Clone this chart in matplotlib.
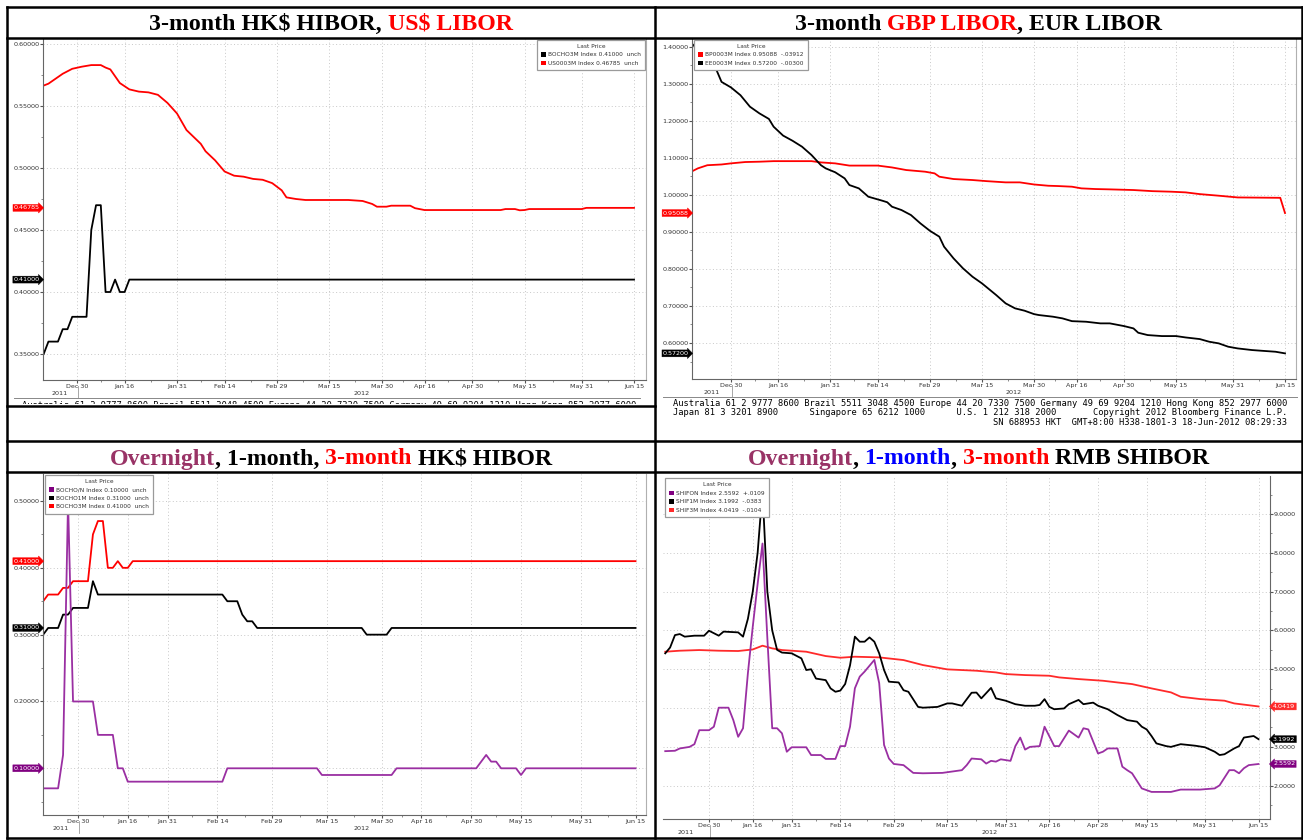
import numpy as np
import matplotlib
matplotlib.use("Agg")
import matplotlib.pyplot as plt
from matplotlib.lines import Line2D
from matplotlib.patches import Patch
from matplotlib.ticker import FixedLocator, MultipleLocator, FormatStrFormatter
from matplotlib.transforms import Bbox, TransformedBbox, blended_transform_factory

W, H = 1303, 840

# ---------------- data (date, value) ----------------
US0003M = [('2011-12-19', 0.5665), ('2011-12-20', 0.5680), ('2011-12-23', 0.5760), ('2011-12-29', 0.5800),
           ('2012-01-03', 0.5817), ('2012-01-05', 0.5830), ('2012-01-09', 0.5830), ('2012-01-10', 0.5810),
           ('2012-01-11', 0.5795), ('2012-01-13', 0.5685), ('2012-01-17', 0.5634), ('2012-01-19', 0.5616),
           ('2012-01-23', 0.5610), ('2012-01-25', 0.5590), ('2012-01-27', 0.5525), ('2012-01-31', 0.5440),
           ('2012-02-02', 0.5306), ('2012-02-07', 0.5195), ('2012-02-08', 0.5135), ('2012-02-10', 0.5062),
           ('2012-02-14', 0.4972), ('2012-02-16', 0.4938), ('2012-02-20', 0.4930), ('2012-02-22', 0.4912),
           ('2012-02-24', 0.4905), ('2012-02-28', 0.4878), ('2012-03-01', 0.4820), ('2012-03-02', 0.4763),
           ('2012-03-06', 0.4750), ('2012-03-08', 0.4742), ('2012-03-21', 0.4742), ('2012-03-26', 0.4734),
           ('2012-03-28', 0.4710), ('2012-03-29', 0.4688), ('2012-04-02', 0.4688), ('2012-04-03', 0.4696),
           ('2012-04-11', 0.4696), ('2012-04-12', 0.4676), ('2012-04-16', 0.4661), ('2012-05-08', 0.4661),
           ('2012-05-09', 0.4669), ('2012-05-11', 0.4669), ('2012-05-14', 0.4659), ('2012-05-15', 0.4661),
           ('2012-05-16', 0.4669), ('2012-05-31', 0.4669), ('2012-06-01', 0.46785), ('2012-06-15', 0.46785)]

BOCHO3M = [('2011-12-19', 0.35), ('2011-12-20', 0.36), ('2011-12-22', 0.36), ('2011-12-23', 0.37),
           ('2011-12-28', 0.37), ('2011-12-29', 0.38), ('2012-01-04', 0.38), ('2012-01-05', 0.45),
           ('2012-01-06', 0.47), ('2012-01-09', 0.47), ('2012-01-10', 0.40), ('2012-01-11', 0.40),
           ('2012-01-12', 0.41), ('2012-01-13', 0.40), ('2012-01-16', 0.40), ('2012-01-17', 0.41),
           ('2012-06-15', 0.41)]

BOCHO1M = [('2011-12-19', 0.30), ('2011-12-20', 0.31), ('2011-12-22', 0.31), ('2011-12-23', 0.33),
           ('2011-12-28', 0.33), ('2011-12-29', 0.34), ('2012-01-04', 0.34), ('2012-01-05', 0.38),
           ('2012-01-06', 0.36), ('2012-02-15', 0.36), ('2012-02-16', 0.35), ('2012-02-20', 0.35),
           ('2012-02-21', 0.33), ('2012-02-22', 0.32), ('2012-02-23', 0.32), ('2012-02-24', 0.31),
           ('2012-03-26', 0.31), ('2012-03-27', 0.30), ('2012-04-02', 0.30), ('2012-04-03', 0.31),
           ('2012-06-15', 0.31)]

BOCHON = [('2011-12-19', 0.07), ('2011-12-22', 0.07), ('2011-12-23', 0.12), ('2011-12-28', 0.50),
          ('2011-12-29', 0.20), ('2012-01-05', 0.20), ('2012-01-06', 0.15), ('2012-01-11', 0.15),
          ('2012-01-12', 0.10), ('2012-01-13', 0.10), ('2012-01-16', 0.08), ('2012-02-15', 0.08),
          ('2012-02-16', 0.10), ('2012-03-13', 0.10), ('2012-03-14', 0.09), ('2012-04-03', 0.09),
          ('2012-04-05', 0.10), ('2012-05-02', 0.10), ('2012-05-04', 0.12), ('2012-05-07', 0.11),
          ('2012-05-08', 0.11), ('2012-05-09', 0.10), ('2012-05-14', 0.10), ('2012-05-15', 0.09),
          ('2012-05-16', 0.10), ('2012-06-15', 0.10)]

BP0003M = [('2011-12-16', 1.0650), ('2011-12-19', 1.0715), ('2011-12-21', 1.0800), ('2011-12-28', 1.0820),
           ('2011-12-30', 1.0850), ('2012-01-05', 1.0886), ('2012-01-10', 1.0895), ('2012-01-13', 1.0910),
           ('2012-01-25', 1.0910), ('2012-01-27', 1.0876), ('2012-02-01', 1.0850), ('2012-02-06', 1.0790),
           ('2012-02-14', 1.0790), ('2012-02-17', 1.0740), ('2012-02-22', 1.0670), ('2012-02-28', 1.0625),
           ('2012-03-01', 1.0580), ('2012-03-02', 1.0490), ('2012-03-07', 1.0427), ('2012-03-13', 1.0400),
           ('2012-03-16', 1.0370), ('2012-03-22', 1.0337), ('2012-03-27', 1.0337), ('2012-03-30', 1.0280),
           ('2012-04-04', 1.0246), ('2012-04-10', 1.0238), ('2012-04-13', 1.0220), ('2012-04-17', 1.0175),
           ('2012-04-20', 1.0157), ('2012-04-25', 1.0148), ('2012-05-02', 1.0130), ('2012-05-08', 1.0100),
           ('2012-05-14', 1.0085), ('2012-05-17', 1.0067), ('2012-05-22', 1.0020), ('2012-05-28', 0.9977),
           ('2012-06-01', 0.9930), ('2012-06-14', 0.9920), ('2012-06-15', 0.95088)]

EE0003M = [('2011-12-16', 1.405), ('2011-12-23', 1.335), ('2011-12-28', 1.305), ('2011-12-30', 1.290),
           ('2012-01-04', 1.269), ('2012-01-06', 1.238), ('2012-01-10', 1.220), ('2012-01-12', 1.205),
           ('2012-01-13', 1.184), ('2012-01-17', 1.160), ('2012-01-19', 1.146), ('2012-01-23', 1.130),
           ('2012-01-25', 1.1075), ('2012-01-27', 1.080), ('2012-01-30', 1.0715), ('2012-02-01', 1.061),
           ('2012-02-03', 1.0445), ('2012-02-06', 1.0265), ('2012-02-08', 1.0175), ('2012-02-10', 0.995),
           ('2012-02-15', 0.984), ('2012-02-16', 0.980), ('2012-02-17', 0.968), ('2012-02-21', 0.959),
           ('2012-02-23', 0.9455), ('2012-02-27', 0.923), ('2012-02-29', 0.903), ('2012-03-02', 0.887),
           ('2012-03-05', 0.860), ('2012-03-07', 0.8285), ('2012-03-09', 0.8015), ('2012-03-13', 0.779),
           ('2012-03-15', 0.761), ('2012-03-20', 0.7295), ('2012-03-22', 0.707), ('2012-03-26', 0.6935),
           ('2012-03-28', 0.6872), ('2012-03-30', 0.678), ('2012-04-02', 0.6755), ('2012-04-05', 0.671),
           ('2012-04-11', 0.6665), ('2012-04-13', 0.659), ('2012-04-18', 0.6574), ('2012-04-23', 0.653),
           ('2012-04-25', 0.653), ('2012-04-30', 0.6457), ('2012-05-02', 0.6394), ('2012-05-03', 0.6277),
           ('2012-05-07', 0.6214), ('2012-05-10', 0.6187), ('2012-05-15', 0.6187), ('2012-05-17', 0.615),
           ('2012-05-22', 0.6106), ('2012-05-24', 0.6034), ('2012-05-28', 0.599), ('2012-05-30', 0.590),
           ('2012-06-01', 0.5854), ('2012-06-06', 0.581), ('2012-06-08', 0.5791), ('2012-06-13', 0.5764),
           ('2012-06-15', 0.572)]

SHIF3M = [('2011-12-19', 5.452), ('2011-12-22', 5.478), ('2011-12-28', 5.495), ('2012-01-05', 5.478),
          ('2012-01-11', 5.470), ('2012-01-16', 5.510), ('2012-01-18', 5.607), ('2012-01-20', 5.538),
          ('2012-01-29', 5.495), ('2012-02-03', 5.452), ('2012-02-09', 5.340), ('2012-02-14', 5.297),
          ('2012-02-17', 5.323), ('2012-02-24', 5.306), ('2012-03-02', 5.237), ('2012-03-08', 5.108),
          ('2012-03-15', 4.997), ('2012-03-23', 4.962), ('2012-03-29', 4.919), ('2012-03-31', 4.876),
          ('2012-04-09', 4.850), ('2012-04-16', 4.833), ('2012-04-18', 4.790), ('2012-04-24', 4.747),
          ('2012-05-02', 4.704), ('2012-05-07', 4.660), ('2012-05-10', 4.618), ('2012-05-16', 4.507),
          ('2012-05-22', 4.404), ('2012-05-24', 4.292), ('2012-05-30', 4.232), ('2012-06-06', 4.190),
          ('2012-06-08', 4.120), ('2012-06-15', 4.0419)]

SHIF1M = [('2011-12-19', 5.41), ('2011-12-20', 5.56), ('2011-12-21', 5.88), ('2011-12-22', 5.907),
          ('2011-12-23', 5.84), ('2011-12-27', 5.865), ('2011-12-29', 5.865), ('2011-12-30', 5.993),
          ('2012-01-05', 5.865), ('2012-01-06', 5.97), ('2012-01-11', 5.95), ('2012-01-12', 5.84),
          ('2012-01-13', 6.30), ('2012-01-16', 7.00), ('2012-01-17', 8.00), ('2012-01-18', 9.60),
          ('2012-01-19', 7.00), ('2012-01-20', 6.00), ('2012-01-21', 5.50), ('2012-01-29', 5.43),
          ('2012-01-31', 5.41), ('2012-02-02', 5.28), ('2012-02-03', 4.98), ('2012-02-06', 5.00),
          ('2012-02-07', 4.76), ('2012-02-09', 4.72), ('2012-02-10', 4.507), ('2012-02-13', 4.42),
          ('2012-02-14', 4.45), ('2012-02-15', 4.62), ('2012-02-16', 5.10), ('2012-02-17', 5.84),
          ('2012-02-20', 5.71), ('2012-02-21', 5.71), ('2012-02-22', 5.82), ('2012-02-23', 5.71),
          ('2012-02-24', 5.41), ('2012-02-27', 4.98), ('2012-02-28', 4.68), ('2012-03-01', 4.66),
          ('2012-03-02', 4.46), ('2012-03-05', 4.42), ('2012-03-07', 4.03), ('2012-03-08', 4.01),
          ('2012-03-13', 4.03), ('2012-03-15', 4.12), ('2012-03-16', 4.12), ('2012-03-20', 4.06),
          ('2012-03-22', 4.395), ('2012-03-23', 4.40), ('2012-03-26', 4.25), ('2012-03-28', 4.52),
          ('2012-03-29', 4.25), ('2012-03-31', 4.19), ('2012-04-05', 4.10), ('2012-04-09', 4.06),
          ('2012-04-11', 4.06), ('2012-04-12', 4.08), ('2012-04-13', 4.23), ('2012-04-16', 4.03),
          ('2012-04-17', 3.97), ('2012-04-19', 3.99), ('2012-04-20', 4.10), ('2012-04-24', 4.21),
          ('2012-04-25', 4.10), ('2012-04-27', 4.14), ('2012-04-28', 4.06), ('2012-05-03', 3.97),
          ('2012-05-07', 3.82), ('2012-05-09', 3.69), ('2012-05-11', 3.65), ('2012-05-14', 3.52),
          ('2012-05-15', 3.45), ('2012-05-16', 3.28), ('2012-05-17', 3.09), ('2012-05-21', 3.02),
          ('2012-05-22', 3.00), ('2012-05-24', 3.07), ('2012-05-29', 3.03), ('2012-05-31', 2.99),
          ('2012-06-04', 2.875), ('2012-06-05', 2.79), ('2012-06-06', 2.81), ('2012-06-08', 2.96),
          ('2012-06-11', 3.02), ('2012-06-12', 3.24), ('2012-06-14', 3.28), ('2012-06-15', 3.1992)]

SHIFON = [('2011-12-19', 2.89), ('2011-12-21', 2.90), ('2011-12-22', 2.96), ('2011-12-26', 3.00),
          ('2011-12-27', 3.07), ('2011-12-28', 3.43), ('2011-12-30', 3.43), ('2012-01-04', 3.52),
          ('2012-01-05', 4.01), ('2012-01-09', 4.01), ('2012-01-10', 3.69), ('2012-01-11', 3.26),
          ('2012-01-12', 3.48), ('2012-01-13', 4.90), ('2012-01-16', 6.10), ('2012-01-17', 7.20),
          ('2012-01-18', 8.24), ('2012-01-19', 5.80), ('2012-01-20', 3.48), ('2012-01-21', 3.48),
          ('2012-01-29', 3.35), ('2012-01-30', 2.875), ('2012-01-31', 2.99), ('2012-02-03', 2.99),
          ('2012-02-06', 2.79), ('2012-02-08', 2.79), ('2012-02-09', 2.69), ('2012-02-13', 2.69),
          ('2012-02-14', 3.02), ('2012-02-15', 3.02), ('2012-02-16', 3.52), ('2012-02-17', 4.51),
          ('2012-02-20', 4.81), ('2012-02-21', 4.94), ('2012-02-23', 5.24), ('2012-02-24', 4.64),
          ('2012-02-27', 3.05), ('2012-02-28', 2.70), ('2012-02-29', 2.56), ('2012-03-02', 2.53),
          ('2012-03-06', 2.33), ('2012-03-08', 2.32), ('2012-03-14', 2.33), ('2012-03-20', 2.40),
          ('2012-03-21', 2.53), ('2012-03-22', 2.70), ('2012-03-26', 2.68), ('2012-03-27', 2.57),
          ('2012-03-28', 2.64), ('2012-03-29', 2.62), ('2012-03-30', 2.68), ('2012-04-01', 2.64),
          ('2012-04-05', 3.02), ('2012-04-06', 3.24), ('2012-04-09', 2.93), ('2012-04-10', 3.00),
          ('2012-04-12', 3.02), ('2012-04-13', 3.52), ('2012-04-17', 3.02), ('2012-04-18', 3.02),
          ('2012-04-20', 3.42), ('2012-04-24', 3.24), ('2012-04-25', 3.48), ('2012-04-26', 3.45),
          ('2012-04-28', 2.83), ('2012-05-02', 2.875), ('2012-05-03', 2.96), ('2012-05-07', 2.96),
          ('2012-05-08', 2.49), ('2012-05-09', 2.40), ('2012-05-10', 2.32), ('2012-05-14', 1.93),
          ('2012-05-16', 1.84), ('2012-05-22', 1.84), ('2012-05-24', 1.90), ('2012-05-30', 1.90),
          ('2012-06-04', 1.93), ('2012-06-05', 2.01), ('2012-06-07', 2.40), ('2012-06-08', 2.40),
          ('2012-06-11', 2.32), ('2012-06-12', 2.45), ('2012-06-13', 2.53), ('2012-06-15', 2.5592)]

# legend rows: ticker, last price, change
LEG_TL = [('BOCHO3M', '0.41000', 'unch'), ('US0003M', '0.46785', 'unch')]
LEG_TR = [('BP0003M', '0.95088', '-.03912'), ('EE0003M', '0.57200', '-.00300')]
LEG_BL = [('BOCHO/N', '0.10000', 'unch'), ('BOCHO1M', '0.31000', 'unch'), ('BOCHO3M', '0.41000', 'unch')]
LEG_BR = [('SHIFON', '2.5592', '+.0109'), ('SHIF1M', '3.1992', '-.0383'), ('SHIF3M', '4.0419', '-.0104')]

# trading calendars (the screens plot against trading days, not calendar days)
LON_HOL = ['2011-12-26', '2011-12-27', '2012-01-02', '2012-04-06', '2012-04-09']
HK_HOL = ['2011-12-26', '2011-12-27', '2012-01-02', '2012-01-23', '2012-01-24', '2012-01-25',
          '2012-04-04', '2012-04-06', '2012-04-09', '2012-05-01']
CN_HOL = ['2012-01-02', '2012-01-03', '2012-01-23', '2012-01-24', '2012-01-25', '2012-01-26',
          '2012-01-27', '2012-04-02', '2012-04-03', '2012-04-04', '2012-04-30', '2012-05-01']
CN_WORK = ['2012-01-21', '2012-01-29', '2012-03-31', '2012-04-01', '2012-04-28']

TICKS_STD = ['2011-12-30', '2012-01-16', '2012-01-31', '2012-02-14', '2012-02-29', '2012-03-15',
             '2012-03-30', '2012-04-16', '2012-04-30', '2012-05-15', '2012-05-31', '2012-06-15']
TICKS_CN = ['2011-12-30', '2012-01-16', '2012-01-31', '2012-02-14', '2012-02-29', '2012-03-15',
            '2012-03-31', '2012-04-16', '2012-04-28', '2012-05-15', '2012-05-31', '2012-06-15']

FOOTER_1 = ("Australia 61 2 9777 8600 Brazil 5511 3048 4500 Europe 44 20 7330 7500 "
            "Germany 49 69 9204 1210 Hong Kong 852 2977 6000")
FOOTER_2 = ("Japan 81 3 3201 8900".ljust(26) + "Singapore 65 6212 1000".ljust(28)
            + "U.S. 1 212 318 2000".ljust(26) + "Copyright 2012 Bloomberg Finance L.P.")
FOOTER_3 = "SN 688953 HKT  GMT+8:00 H338-1801-3 18-Jun-2012 08:29:33"

RED = '#ff0000'
BLACK = '#000000'
PURPLE = '#9a2fa2'
TITLE_FONT = dict(family='Liberation Serif', weight='bold', size=17.2, parse_math=False)
SMALL = 4.6

fig = plt.figure(figsize=(W / 100, H / 100), dpi=100)
fig.patch.set_facecolor('white')


def fx(px):
    return px / W


def fy(py):
    return 1 - py / H


def tindex(dates, holidays, workdays=()):
    d = np.array(dates, dtype='datetime64[D]')
    base = np.datetime64('2011-12-30')
    k = np.busday_count(base, d, holidays=holidays).astype(float)
    for w in workdays:
        w = np.datetime64(w)
        if w >= base:
            k += (d > w)
    return k


def add_panel(box, cal, tick_dates, x0, xj, yref, ystep, fmt, right=False):
    l, t, r, b = box
    ax = fig.add_axes([fx(l), fy(b), (r - l) / W, (b - t) / H])
    kt = tindex(tick_dates, *cal)
    ppd = (xj - x0) / kt[-1]
    ax.set_xlim((l - x0) / ppd, (r - x0) / ppd)
    (v1, p1), (v2, p2) = yref
    vpp = (v1 - v2) / (p2 - p1)
    ax.set_ylim(v2 - (b - p2) * vpp, v1 + (p1 - t) * vpp)

    labels = []
    for d in tick_dates:
        dd = np.datetime64(d).astype(object)
        labels.append(f"{dd:%b} {dd.day}")
    ax.set_xticks(kt, labels)
    ax.xaxis.set_minor_locator(FixedLocator((kt[:-1] + kt[1:]) / 2))
    ax.yaxis.set_major_locator(MultipleLocator(ystep))
    ax.yaxis.set_minor_locator(MultipleLocator(ystep / 2))
    ax.yaxis.set_major_formatter(FormatStrFormatter(fmt))
    if right:
        ax.yaxis.tick_right()
    ax.tick_params(axis='both', which='major', direction='out', length=2.2, width=0.8,
                   color='#555555', labelsize=SMALL, labelcolor='#333333', pad=0.4)
    ax.tick_params(axis='both', which='minor', direction='out', length=1.4, width=0.6, color='#777777')
    ax.grid(True, which='major', ls=(0, (1, 2.5)), color='#c8c8c8', lw=0.7)
    ax.set_axisbelow(True)
    for s in ax.spines.values():
        s.set_linewidth(0.8)
    ax.spines['top'].set_visible(False)
    ax.spines['bottom'].set_color('#666666')
    if right:
        ax.spines['left'].set_visible(False)
        ax.spines['right'].set_color('#666666')
    else:
        ax.spines['left'].set_color('#666666')
        ax.spines['right'].set_color('#b0b0b0')

    # year row under the dates
    hpx = b - t
    tr = blended_transform_factory(ax.transData, ax.transAxes)
    xl = ax.get_xlim()
    ax.text(xl[0] / 2, -13.5 / hpx, '2011', transform=tr, ha='center', va='center',
            fontsize=SMALL, color='#333333')
    ax.text(xl[1] / 2, -13.5 / hpx, '2012', transform=tr, ha='center', va='center',
            fontsize=SMALL, color='#333333')
    ax.add_line(Line2D([0.2, 0.2], [-6 / hpx, -18 / hpx], transform=tr, color='#999999',
                       lw=0.6, clip_on=False))
    return ax


def plot_series(ax, series, cal, color):
    ax.plot(tindex([d for d, v in series], *cal), [v for d, v in series], color=color, lw=1.3,
            solid_joinstyle='round')


def tag(ax, val, color, right=False):
    txt = (f"{val:.4f}" if right else f"{val:.5f}")
    if right:
        ax.annotate(txt, xy=(1, val), xycoords=ax.get_yaxis_transform(), xytext=(2.2, 0),
                    textcoords='offset points', ha='left', va='center', fontsize=SMALL,
                    color='white', annotation_clip=False, zorder=6,
                    bbox=dict(boxstyle='larrow,pad=0.15', fc=color, ec=color, lw=0.3))
    else:
        ax.annotate(txt, xy=(0, val), xycoords=ax.get_yaxis_transform(), xytext=(-2.2, 0),
                    textcoords='offset points', ha='right', va='center', fontsize=SMALL,
                    color='white', annotation_clip=False, zorder=6,
                    bbox=dict(boxstyle='rarrow,pad=0.15', fc=color, ec=color, lw=0.3))


def legend(ax, rows, colors, anchor, loc):
    handles = [Patch(fc=c, ec='none') for c in colors]
    labels = [f"{n} Index {p}  {c}" for n, p, c in rows]
    leg = ax.legend(handles, labels, title='Last Price', loc=loc,
                    bbox_to_anchor=(fx(anchor[0]), fy(anchor[1])), bbox_transform=fig.transFigure,
                    fontsize=4.2, title_fontsize=4.2, frameon=True, fancybox=False,
                    edgecolor='#9a9a9a', framealpha=1, borderpad=0.75, labelspacing=0.55,
                    handlelength=0.8, handleheight=0.8, handletextpad=0.3, borderaxespad=0)
    leg.get_frame().set_linewidth(0.9)
    for t in leg.get_texts():
        t.set_color('#333333')
    leg.get_title().set_color('#333333')
    leg.set_zorder(10)


def draw_title(segments, cx, base_y):
    r = fig.canvas.get_renderer()
    full = ''.join(s for s, c in segments)

    def width(s):
        t = fig.text(0, 0, s, **TITLE_FONT)
        w = t.get_window_extent(r).width
        t.remove()
        return w

    start = cx - width(full) / 2
    pos = 0
    for s, c in segments:
        st = s.strip()
        if st:
            end = pos + len(s.rstrip())
            off = width(full[:end]) - width(st)
            fig.text(fx(start + off), fy(base_y), st, color=c, ha='left', va='baseline', **TITLE_FONT)
        pos += len(s)


LON = (LON_HOL,)
HK = (HK_HOL,)
CN = (CN_HOL, CN_WORK)

# ---- top left: 3-month HK$ HIBOR, US$ LIBOR ----
ax1 = add_panel((43, 39, 646, 380), LON, TICKS_STD, 77, 634, ((0.60, 44), (0.35, 354)), 0.05, '%.5f')
plot_series(ax1, US0003M, LON, RED)
plot_series(ax1, BOCHO3M, LON, BLACK)
tag(ax1, US0003M[-1][1], RED)
tag(ax1, BOCHO3M[-1][1], BLACK)
legend(ax1, LEG_TL, [BLACK, RED], (645, 39.5), 'upper right')

# ---- top right: 3-month GBP LIBOR, EUR LIBOR ----
ax2 = add_panel((692, 39, 1296, 379), LON, TICKS_STD, 731, 1285, ((1.40, 46.7), (0.60, 343)), 0.1, '%.5f')
plot_series(ax2, BP0003M, LON, RED)
plot_series(ax2, EE0003M, LON, BLACK)
tag(ax2, BP0003M[-1][1], RED)
tag(ax2, EE0003M[-1][1], BLACK)
legend(ax2, LEG_TR, [RED, BLACK], (694, 39.5), 'upper left')

# ---- bottom left: Overnight, 1-month, 3-month HK$ HIBOR ----
ax3 = add_panel((43, 474, 646, 815), HK, TICKS_STD, 78, 635.5, ((0.50, 501), (0.10, 768.3)), 0.1, '%.5f')
plot_series(ax3, BOCHO3M, HK, RED)
plot_series(ax3, BOCHO1M, HK, BLACK)
plot_series(ax3, BOCHON, HK, PURPLE)
tag(ax3, BOCHO3M[-1][1], RED)
tag(ax3, BOCHO1M[-1][1], BLACK)
tag(ax3, BOCHON[-1][1], '#800080')
legend(ax3, LEG_BL, ['#800080', BLACK, RED], (45, 474.5), 'upper left')

# ---- bottom right: Overnight, 1-month, 3-month RMB SHIBOR ----
ax4 = add_panel((663, 476, 1270, 819), CN, TICKS_CN, 709, 1258.5, ((9.0, 514), (2.0, 785.7)), 1.0,
                '%.4f', right=True)
plot_series(ax4, SHIF3M, CN, '#ff2a2a')
plot_series(ax4, SHIF1M, CN, BLACK)
plot_series(ax4, SHIFON, CN, PURPLE)
tag(ax4, SHIF3M[-1][1], '#ff2a2a', right=True)
tag(ax4, SHIF1M[-1][1], BLACK, right=True)
tag(ax4, SHIFON[-1][1], '#800080', right=True)
legend(ax4, LEG_BR, ['#800080', BLACK, '#ff2a2a'], (665, 478), 'upper left')

# ---- footers ----
mono = dict(family='DejaVu Sans Mono', fontsize=6.3, color='black')
for i, line in enumerate([FOOTER_1, FOOTER_2, FOOTER_3]):
    fig.text(fx(1287), fy(403.3 + 9.4 * i), line, ha='right', va='center', **mono)
cut = fig.text(fx(636), fy(405), FOOTER_1, ha='right', va='center', **mono)
cut.set_clip_box(TransformedBbox(Bbox([[0, fy(403.8)], [fx(655), fy(395)]]), fig.transFigure))
cut.set_clip_on(True)

fig.add_artist(Line2D([fx(14), fx(640)], [fy(398), fy(398)], color='#888888', lw=0.7))
fig.add_artist(Line2D([fx(663), fx(1297)], [fy(397), fy(397)], color='#888888', lw=0.7))

# ---- titles ----
draw_title([("3-month HK$ HIBOR, ", BLACK), ("US$ LIBOR", RED)], 331, 29.5)
draw_title([("3-month ", BLACK), ("GBP LIBOR", RED), (", EUR LIBOR", BLACK)], 978.5, 29.5)
draw_title([("Overnight", '#993366'), (", 1-month, ", BLACK), ("3-month", RED), (" HK$ HIBOR", BLACK)],
           331, 464.5)
draw_title([("Overnight", '#993366'), (",", BLACK), (" 1-month", '#0000ff'), (",", BLACK),
            (" 3-month", RED), (" RMB SHIBOR", BLACK)], 978.5, 464.5)

# ---- table grid ----
bw = 1.8
hlines = [(7, 7, 1302), (38, 7, 1302), (405.5, 7, 655), (441, 7, 1302), (472, 7, 1302), (838, 7, 1302)]
for y, xa, xb in hlines:
    fig.add_artist(Line2D([fx(xa), fx(xb)], [fy(y), fy(y)], color='black', lw=bw, solid_capstyle='projecting'))
for x in (7, 655, 1302):
    fig.add_artist(Line2D([fx(x), fx(x)], [fy(7), fy(838)], color='black', lw=bw, solid_capstyle='projecting'))

fig.savefig('out.png', dpi=100, facecolor='white')
